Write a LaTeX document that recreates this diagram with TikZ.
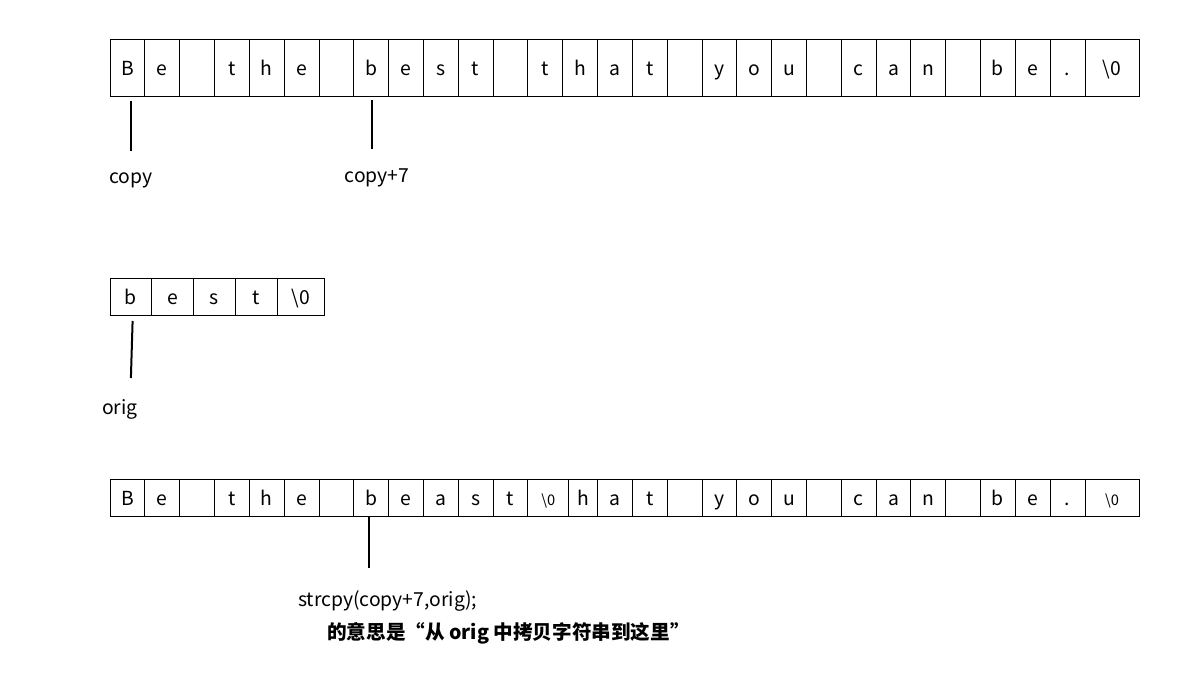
\documentclass[tikz,border=0pt]{standalone}
\usepackage{fontspec}
\setmainfont{Noto Sans CJK SC}
\usetikzlibrary{positioning}

\begin{document}
\begin{tikzpicture}[x=0.75pt, y=-0.75pt,
    every node/.style={font=\fontsize{14.5}{17}\selectfont},
    cell/.style={draw, line width=0.6pt, inner sep=0pt, outer sep=0pt, anchor=north west,
      minimum width=26.1pt, minimum height=27.75pt, text height=12.5pt, text depth=1pt},
    tall/.style={minimum height=42.75pt},
    ptr/.style={line width=1.5pt},
    small/.style={font=\fontsize{11}{13}\selectfont}]
  \useasboundingbox (0,0) rectangle (1203,698);
  % the whole string
  \foreach \c [count=\i] in {B,e,{},t,h,e,{},b,e,s,t,{},t,h,a,t,{},y,o,u,{},c,a,n,{},b,e,.}
    \node[cell, tall] (t\i) at ({110+34.82*(\i-1)},39) {\c};
  \node[cell, tall, minimum width=40.5pt] (t29) at (t28.north east) {\textbackslash 0};
  % orig
  \foreach \c [count=\i] in {b,e,s,t}
    \node[cell, minimum width=31.3pt] (m\i) at ({110+41.75*(\i-1)},278) {\c};
  \node[cell, minimum width=35.5pt] (m5) at (m4.north east) {\textbackslash 0};
  % after strcpy
  \foreach \c [count=\i] in {B,e,{},t,h,e,{},b,e,a,s,t}
    \node[cell] (b\i) at ({110+34.82*(\i-1)},479) {\c};
  \node[cell, small, minimum width=30.75pt] (b13) at (b12.north east) {\textbackslash 0};
  \node[cell, minimum width=21.48pt] (b14) at (b13.north east) {h};
  \foreach \c [count=\i from 15] in {a,t,{},y,o,u,{},c,a,n,{},b,e,.}
    \node[cell] (b\i) at ({110+34.82*(\i-1)},479) {\c};
  \node[cell, small, minimum width=40.5pt] (b29) at (b28.north east) {\textbackslash 0};

  \node (copy) at (131,180) {copy};
  \node (copy7) at (377,178) {copy+7};
  \node (orig) at (120,409) {orig};
  \node[anchor=west, inner sep=0pt] (call) at (298,601) {strcpy(copy+7,orig);};
  \node[anchor=west, inner sep=0pt, font=\fontsize{14.7}{18}\selectfont\bfseries] (note) at (327,633) {的意思是“从 orig 中拷贝字符串到这里”};

  \draw[ptr] ([xshift=2.7pt,yshift=-3.75pt]t1.south) -- ++(0,50);
  \draw[ptr] ([xshift=0.6pt,yshift=-3pt]t8.south) -- ++(0,49);
  \draw[ptr] ([xshift=1.3pt,yshift=-4.5pt]m1.south) -- ++(-1.7,57);
  \draw[ptr] ([xshift=-1.65pt,yshift=-0.75pt]b8.south) -- ++(0,51);
\end{tikzpicture}
\end{document}
